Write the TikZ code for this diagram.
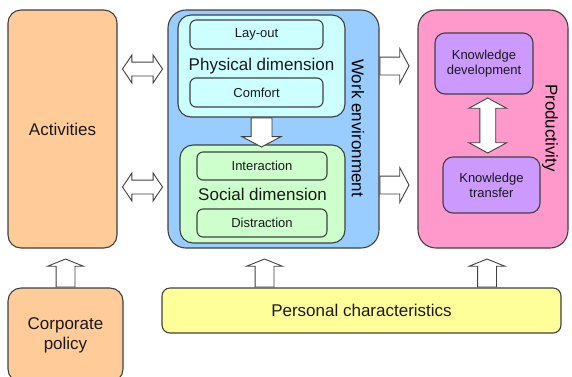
\documentclass[tikz,border=0pt]{standalone}
\usepackage{fontspec}
\setmainfont{Liberation Sans}
\usetikzlibrary{shapes.arrows}
\definecolor{peach}{HTML}{FFCC99}
\definecolor{weblue}{HTML}{99CCFF}
\definecolor{physcyan}{HTML}{CCFFFF}
\definecolor{socgreen}{HTML}{CCFFCC}
\definecolor{prodpink}{HTML}{FF99CC}
\definecolor{lilac}{HTML}{CC99FF}
\definecolor{persyellow}{HTML}{FFFF99}
\definecolor{boxline}{HTML}{404040}
\definecolor{arrline}{HTML}{404040}

\begin{document}
\begin{tikzpicture}[x=1pt,y=-1pt,
bigbox/.style={draw=boxline,line width=1.1pt,rounded corners=13pt,align=center,inner sep=0pt,
    text=black!90,font=\fontsize{17}{20}\selectfont},
smallbox/.style={bigbox,rounded corners=6pt,font=\fontsize{13}{15}\selectfont},
hollow/.style={draw=arrline,fill=white,line width=0.9pt,inner sep=0pt},
uparr/.style={hollow,single arrow,rotate=90,minimum height=28pt,inner ysep=9pt,
    single arrow head extend=8.5pt,single arrow tip angle=136},
rarr/.style={hollow,single arrow,minimum height=29pt,inner ysep=8.5pt,
    single arrow head extend=8.5pt,single arrow tip angle=124},
dnarr/.style={hollow,single arrow,rotate=-90,minimum height=29pt,inner ysep=10pt,
    single arrow head extend=9pt,single arrow tip angle=124},
hdarr/.style={hollow,double arrow,minimum height=40pt,inner ysep=6.5pt,
    double arrow head extend=7pt,double arrow tip angle=112},
vdarr/.style={hollow,double arrow,rotate=90,minimum height=55pt,inner ysep=7.5pt,
    double arrow head extend=11pt,double arrow tip angle=123}]
\path[use as bounding box,clip] (0,0) rectangle (572,376);

% left column
\node (act) [bigbox,fill=peach,minimum width=109pt,minimum height=238pt] at (62.5,129) {Activities};
\node (corp) [bigbox,fill=peach,minimum width=115pt,minimum height=94pt] at (65.5,335) {Corporate\\policy};

% work environment
\node (workenv) [bigbox,fill=weblue,rounded corners=18pt,minimum width=211pt,minimum height=238pt] at (273.5,129) {};
\node (phys) [bigbox,fill=physcyan,minimum width=167pt,minimum height=102pt] at (261.5,66) {Physical dimension};
\node (layout) [smallbox,fill=physcyan,minimum width=133pt,minimum height=29pt] at (256.5,34.5) {Lay-out};
\node (comfort) [smallbox,fill=physcyan,minimum width=133pt,minimum height=29pt] at (256.5,92.5) {Comfort};
\node (social) [bigbox,fill=socgreen,minimum width=165pt,minimum height=98pt] at (262.5,194) {Social dimension};
\node (interact) [smallbox,fill=socgreen,minimum width=130pt,minimum height=28pt] at (262,166) {Interaction};
\node (distract) [smallbox,fill=socgreen,minimum width=130pt,minimum height=28pt] at (262,223) {Distraction};
\node (welabel) [rotate=-90,font=\fontsize{17}{20}\selectfont] at (358,128) {Work environment};

% productivity
\node (prod) [bigbox,fill=prodpink,rounded corners=18pt,minimum width=150pt,minimum height=238pt] at (493,129) {};
\node (kdev) [smallbox,fill=lilac,rounded corners=10pt,minimum width=98pt,minimum height=61pt] at (484,63.5) {Knowledge\\development};
\node (ktrans) [smallbox,fill=lilac,rounded corners=10pt,minimum width=97pt,minimum height=56pt] at (491.5,185) {Knowledge\\transfer};
\node (prodlabel) [rotate=-90,font=\fontsize{17}{20}\selectfont] at (550,128) {Productivity};

\node (pers) [bigbox,fill=persyellow,rounded corners=8pt,minimum width=399pt,minimum height=45pt] at (361.5,310.5) {Personal characteristics};

% block arrows
\path (act.east |- phys) -- node[hdarr,yshift=-3pt]{} (workenv.west |- phys);
\path (act.east |- social) -- node[hdarr,yshift=7pt]{} (workenv.west |- social);
\node [rarr,anchor=tail] at (workenv.east |- phys) {};
\node [rarr,anchor=tail] at (workenv.east |- ktrans) {};
\node [dnarr,anchor=tail] at (phys.south) {};
\path (kdev.south) -- node[vdarr]{} (ktrans.north);
\node [uparr,anchor=tail] at (corp.north) {};
\node [uparr,anchor=tail] at ([xshift=-9pt]pers.north -| workenv.south) {};
\node [uparr,anchor=tail] at ([xshift=-6pt]pers.north -| prod.south) {};
\end{tikzpicture}
\end{document}
